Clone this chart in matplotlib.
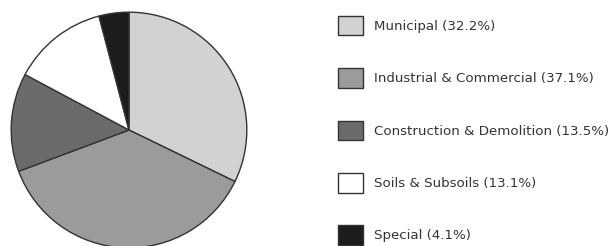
import matplotlib
matplotlib.use("Agg")
import matplotlib.pyplot as plt

categories = ["Municipal", "Industrial & Commercial", "Construction & Demolition",
              "Soils & Subsoils", "Special"]
values = [32.2, 37.1, 13.5, 13.1, 4.1]
colors = ["#d2d2d2", "#9b9b9b", "#6b6b6b", "#ffffff", "#1c1c1c"]

plt.rcParams['font.family'] = ['DejaVu Sans']

fig = plt.figure(figsize=(6.12, 2.46), dpi=100)
ax = fig.add_axes([10/612, (246-249)/246, 238/612, 238/246])
wedges, _ = ax.pie(values, colors=colors, startangle=90, counterclock=False,
                   wedgeprops=dict(edgecolor="#333333", linewidth=1.0), radius=1.0)
ax.set_xlim(-1.01, 1.01)
ax.set_ylim(-1.01, 1.01)
ax.set_aspect('equal')
ax.axis('off')

labels = [f"{c} ({v}%)" for c, v in zip(categories, values)]
fig.legend(wedges, labels, loc='upper left', bbox_to_anchor=(331/612, 1 - 9/246),
           frameon=False, fontsize=9.6, handlelength=1.875, handleheight=1.875,
           labelspacing=2.47, borderpad=0, handletextpad=0.83, labelcolor="#333333")

fig.savefig("out.png", dpi=100)
